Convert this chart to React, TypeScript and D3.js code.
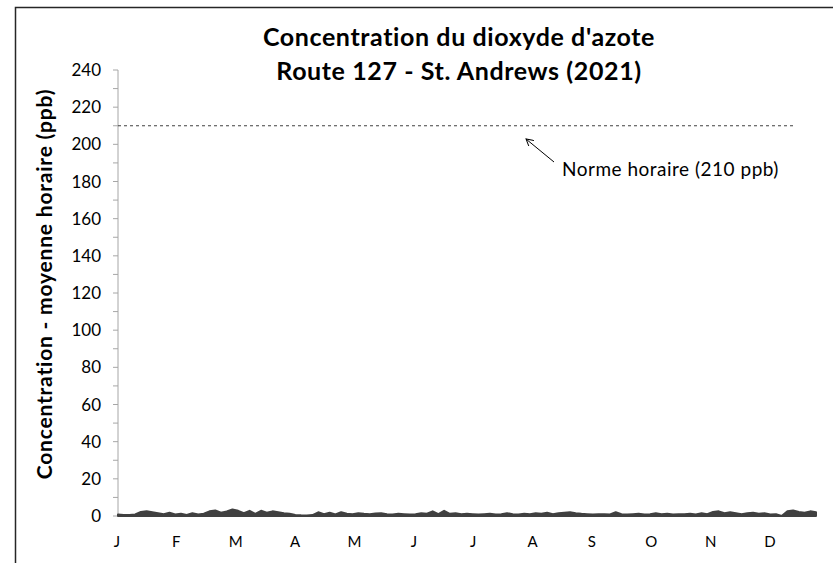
import React, { useRef, useEffect } from 'react';
import * as d3 from 'd3';

// valeurs lues approximativement (pas de 3 jours), ppb
const no2Values: (number | null)[] = [
  0.8, 0.6, 0.5, 0.8, 2.2, 2.5, 2.0, 1.5, 1.0, 1.8, 0.8,
  1.2, 0.6, 1.5, 0.8, 1.2, 2.5, 3.0, 1.8, 2.5, 3.5,
  2.8, 1.5, 2.8, 1.2, 2.8, 1.8, 2.5, 2.0, 1.5, 1.2,
  0.6, 0.4, 0.3, 0.5, 2.0, 1.0, 1.8, 0.8, 2.0, 1.2,
  1.0, 1.5, 1.2, 1.0, 1.4, 1.5, 1.0, 0.8, 1.2, 1.0,
  0.8, 1.0, 1.5, 1.2, 2.5, 1.0, 2.8, 1.2, 1.5, 1.0,
  1.2, 1.0, 0.8, 1.0, 1.2, 0.8, 1.0, 1.5, 1.0, 0.8, 1.2,
  1.0, 1.5, 1.2, 1.8, 1.0, 1.5, 1.8, 2.0, 1.5, 1.2,
  1.0, 0.8, 0.9, 1.0, 0.8, 2.0, 1.0, 0.8, 1.0, 1.2,
  0.8, 1.0, 1.5, 1.0, 1.2, 0.8, 1.0, 1.0, 1.2, 0.8,
  1.5, 1.0, 2.2, 2.5, 1.5, 2.0, 1.5, 1.0, 1.5, 1.8,
  1.2, 1.5, 0.8, 1.0, 0.0, 2.5, 3.0, 2.2, 1.8, 2.5, 2.0,
];
const stepDays = 3;
const monthLabels = ['J', 'F', 'M', 'A', 'M', 'J', 'J', 'A', 'S', 'O', 'N', 'D'];
const yTicks = d3.range(0, 241, 20);
const yMinorTicks = d3.range(10, 240, 20);
const norme = 210;
const titleLines = ["Concentration du dioxyde d'azote", 'Route 127 - St. Andrews (2021)'];
const yLabel = 'Concentration - moyenne horaire (ppb)';
const normeLabel = 'Norme horaire (210 ppb)';

const font = 'Lato, Open Sans, sans-serif';

export default function App() {
  const svgRef = useRef<SVGSVGElement>(null);

  useEffect(() => {
    const svg = d3.select(svgRef.current);
    svg.selectAll('*').remove();

    const x0 = 118, x1 = 816;
    const xScale = d3.scaleLinear().domain([0, (no2Values.length - 1) * stepDays]).range([x0, x1]);
    const yScale = d3.scaleLinear().domain([0, 240]).range([516, 70]);
    const monthScale = d3.scalePoint().domain(monthLabels.map((d, i) => String(i))).range([117, 770]);

    // cadre
    svg.append('rect')
      .attr('x', 15.5).attr('y', 7.5).attr('width', 900).attr('height', 700)
      .attr('fill', 'white').attr('stroke', '#262626').attr('stroke-width', 1.5);

    // titre
    svg.append('g').selectAll('text')
      .data(titleLines)
      .join('text')
      .attr('x', 459)
      .attr('y', (d, i) => 46 + i * 34)
      .attr('text-anchor', 'middle')
      .attr('font-family', font)
      .attr('font-weight', 'bold')
      .attr('font-size', 25)
      .attr('letter-spacing', 0.6)
      .attr('fill', '#000')
      .text(d => d);

    // axe y
    const yAxis = svg.append('g');
    yAxis.append('line')
      .attr('x1', x0).attr('x2', x0)
      .attr('y1', yScale(240)).attr('y2', yScale(0))
      .attr('stroke', '#a6a6a6');
    yAxis.selectAll('.major')
      .data(yTicks)
      .join('line')
      .attr('class', 'major')
      .attr('x1', x0 - 5).attr('x2', x0)
      .attr('y1', d => yScale(d)).attr('y2', d => yScale(d))
      .attr('stroke', '#a6a6a6');
    yAxis.selectAll('.minor')
      .data(yMinorTicks)
      .join('line')
      .attr('class', 'minor')
      .attr('x1', x0 - 5).attr('x2', x0)
      .attr('y1', d => yScale(d)).attr('y2', d => yScale(d))
      .attr('stroke', '#a6a6a6');
    yAxis.selectAll('text')
      .data(yTicks)
      .join('text')
      .attr('x', 101)
      .attr('y', d => yScale(d) + 6)
      .attr('text-anchor', 'end')
      .attr('font-family', font)
      .attr('font-size', 17)
      .attr('fill', '#000')
      .text(d => d);

    svg.append('text')
      .attr('transform', `translate(52, 284) rotate(-90)`)
      .attr('text-anchor', 'middle')
      .attr('font-family', font)
      .attr('font-weight', 'bold')
      .attr('font-size', 21)
      .attr('letter-spacing', 0.8)
      .attr('fill', '#000')
      .text(yLabel);

    // axe x
    svg.append('line')
      .attr('x1', x0).attr('x2', x1)
      .attr('y1', yScale(0)).attr('y2', yScale(0))
      .attr('stroke', '#a6a6a6');
    svg.append('g').selectAll('text')
      .data(monthLabels)
      .join('text')
      .attr('x', (d, i) => monthScale(String(i)) as number)
      .attr('y', 547)
      .attr('text-anchor', 'middle')
      .attr('font-family', font)
      .attr('font-size', 15)
      .attr('fill', '#000')
      .text(d => d);

    // données
    const area = d3.area<number | null>()
      .defined(d => d !== null)
      .x((d, i) => xScale(i * stepDays))
      .y0(yScale(0))
      .y1(d => yScale(d as number));
    svg.append('path')
      .datum(no2Values)
      .attr('d', area)
      .attr('fill', '#404040')
      .attr('stroke', '#404040')
      .attr('stroke-width', 2)
      .attr('stroke-linejoin', 'round');

    // norme
    svg.append('line')
      .attr('x1', x0).attr('x2', 793)
      .attr('y1', yScale(norme)).attr('y2', yScale(norme))
      .attr('stroke', '#404040')
      .attr('stroke-width', 1)
      .attr('stroke-dasharray', '3,3');

    // flèche
    const defs = svg.append('defs');
    defs.append('marker')
      .attr('id', 'arrow')
      .attr('viewBox', '0 0 10 10')
      .attr('refX', 9).attr('refY', 5)
      .attr('markerWidth', 8).attr('markerHeight', 8)
      .attr('orient', 'auto')
      .append('path')
      .attr('d', 'M0,0 L9,5 L0,10')
      .attr('fill', 'none')
      .attr('stroke', '#000')
      .attr('stroke-width', 1.2);
    svg.append('line')
      .attr('x1', 554).attr('y1', 162)
      .attr('x2', 526).attr('y2', 139)
      .attr('stroke', '#000')
      .attr('stroke-width', 1)
      .attr('marker-end', 'url(#arrow)');

    svg.append('text')
      .attr('x', 562)
      .attr('y', 176)
      .attr('font-family', font)
      .attr('font-size', 19)
      .attr('letter-spacing', 0.5)
      .attr('fill', '#000')
      .text(normeLabel);
  }, []);

  return (
    <svg ref={svgRef} width={833} height={563}
      style={{ position: 'absolute', left: 0, top: 0 }} />
  );
}
